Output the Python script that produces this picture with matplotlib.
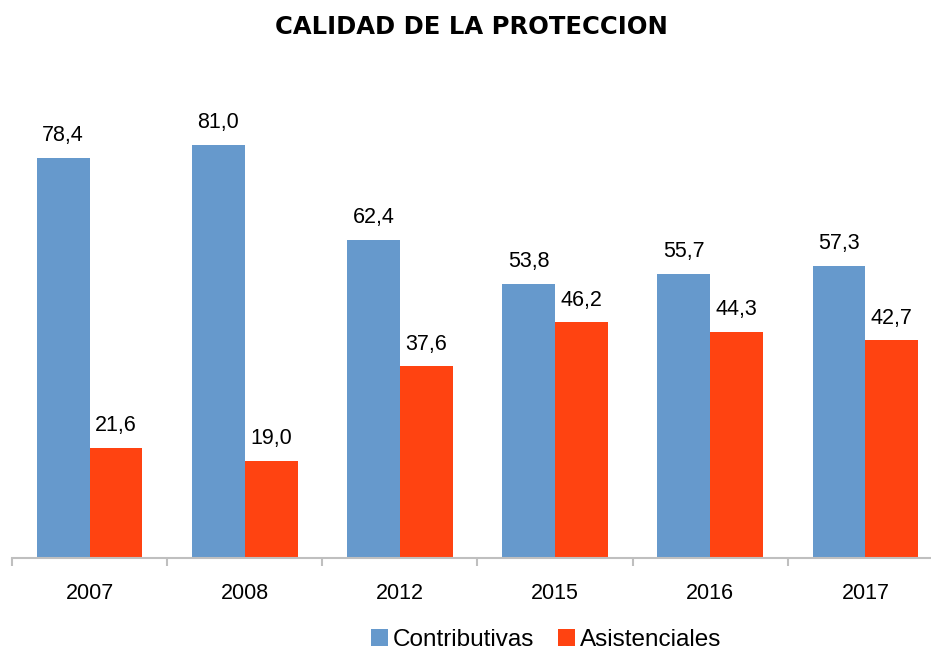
import matplotlib
matplotlib.use("Agg")
import matplotlib.pyplot as plt
import numpy as np

years = ["2007", "2008", "2012", "2015", "2016", "2017"]
contributivas = [78.4, 81.0, 62.4, 53.8, 55.7, 57.3]
asistenciales = [21.6, 19.0, 37.6, 46.2, 44.3, 42.7]
series_names = ["Contributivas", "Asistenciales"]
title = "CALIDAD DE LA PROTECCION"

BLUE = "#6699CC"
RED = "#FF4311"
AXIS = "#BFBFBF"

plt.rcParams["font.family"] = ["Liberation Sans", "DejaVu Sans"]

W, H = 931, 654
fig = plt.figure(figsize=(W / 100, H / 100), dpi=100)
ax = fig.add_axes([12 / W, 1 - 558 / H, 931 / W, 510 / H])

x = np.arange(len(years))
bw = 0.34
b1 = ax.bar(x - bw / 2, contributivas, bw, color=BLUE, label=series_names[0])
b2 = ax.bar(x + bw / 2, asistenciales, bw, color=RED, label=series_names[1])

for bars, vals in ((b1, contributivas), (b2, asistenciales)):
    for r, v in zip(bars, vals):
        ax.annotate(f"{v:.1f}".replace(".", ","),
                    (r.get_x() + r.get_width() / 2, v),
                    xytext=(0, 12), textcoords="offset points",
                    ha="center", va="baseline", fontsize=15.5, color="black")

ax.set_xlim(-0.5, len(years) - 0.5)
ax.set_ylim(0, 100)
ax.set_yticks([])
ax.set_xticks(x)
ax.set_xticklabels(years, fontsize=15.5)
ax.tick_params(axis="x", which="major", length=0, pad=18)
ax.set_xticks(np.arange(-0.5, len(years), 1.0), minor=True)
ax.tick_params(axis="x", which="minor", length=6, width=1.5, color=AXIS, direction="out")
for s in ("top", "right", "left"):
    ax.spines[s].set_visible(False)
ax.spines["bottom"].set_color(AXIS)
ax.spines["bottom"].set_linewidth(1.5)

fig.text(471 / W, 1 - 34.3 / H, title, ha="center", va="baseline",
         fontsize=17.5, fontweight="bold", family=["DejaVu Sans"])

fig.legend(loc="center", bbox_to_anchor=(546 / W, 1 - 640 / H), ncol=2,
           frameon=False, fontsize=17.5, handlelength=0.7, handleheight=0.7,
           handletextpad=0.22, columnspacing=0.95, borderpad=0.0)

fig.savefig("out.png", dpi=100)
